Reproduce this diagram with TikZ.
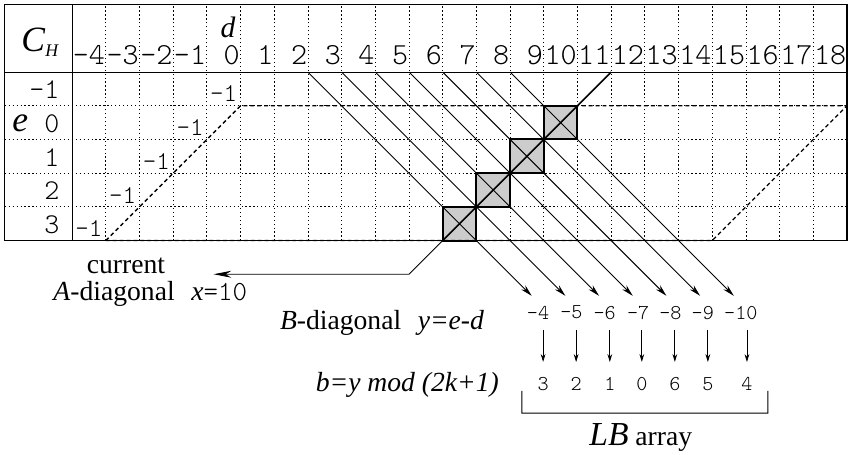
\documentclass[tikz,border=0pt]{standalone}
\usepackage{fontspec}
\setmainfont{Liberation Serif}
\setmonofont{Latin Modern Mono Light}
\usetikzlibrary{arrows.meta}
\newcommand{\hnum}{\fontsize{15.5}{15.5}\selectfont\ttfamily}
\newcommand{\rnum}{\fontsize{14.5}{14.5}\selectfont\ttfamily}
\newcommand{\cnum}{\fontsize{13}{13}\selectfont\ttfamily}
\newcommand{\snum}{\fontsize{10.7}{10.7}\selectfont\ttfamily}
\newcommand{\lab}{\fontsize{14}{14}\selectfont}
\newcommand{\blankdig}{\hphantom{0}}

\begin{document}
\begin{tikzpicture}[xscale=0.6,yscale=0.6,
  gridline/.style={line width=0.4pt,dash pattern=on 0.6pt off 1.4pt},
  frame/.style={line width=0.6pt},
  band/.style={line width=0.7pt,dash pattern=on 2pt off 1.5pt},
  hit/.style={line width=1pt},
  head/.style={inner sep=1pt},
  diag/.style={line width=0.45pt,-{Stealth[length=6pt,width=3pt]}},
  down/.style={line width=0.4pt,-{Stealth[length=4pt,width=2.4pt]},shorten <=1.7pt,shorten >=4.3pt}]
\useasboundingbox (-2.14,-6.34) rectangle (23.12,7.14);

\fill[black!20] (11,0) rectangle (12,1);
\fill[black!20] (12,1) rectangle (13,2);
\fill[black!20] (13,2) rectangle (14,3);
\fill[black!20] (14,3) rectangle (15,4);

\draw[gridline,xstep=1,ystep=7] (0,0) grid (23,7);
\draw[gridline,xstep=25,ystep=1] (-2,0) grid (23,5);

\draw[band] (1,0) -- (5,4) -- (23,4);
\draw[band] (1,0) -- (19,0) -- (23,4);

\draw (0.5,5.5) node[head](dm4) {\hnum -4};
\draw (1.5,5.5) node[head](dm3) {\hnum -3};
\draw (2.5,5.5) node[head](dm2) {\hnum -2};
\draw (3.5,5.5) node[head](dm1) {\hnum -1};
\draw (4.5,5.5) node[head](d0) {\hnum \blankdig0};
\draw (5.5,5.5) node[head](d1) {\hnum \blankdig1};
\draw (6.5,5.5) node[head](d2) {\hnum \blankdig2};
\draw (7.5,5.5) node[head](d3) {\hnum \blankdig3};
\draw (8.5,5.5) node[head](d4) {\hnum \blankdig4};
\draw (9.5,5.5) node[head](d5) {\hnum \blankdig5};
\draw (10.5,5.5) node[head](d6) {\hnum \blankdig6};
\draw (11.5,5.5) node[head](d7) {\hnum \blankdig7};
\draw (12.5,5.5) node[head](d8) {\hnum \blankdig8};
\draw (13.5,5.5) node[head](d9) {\hnum \blankdig9};
\draw (14.5,5.5) node[head](d10) {\hnum 10};
\draw (15.5,5.5) node[head](d11) {\hnum 11};
\draw (16.5,5.5) node[head](d12) {\hnum 12};
\draw (17.5,5.5) node[head](d13) {\hnum 13};
\draw (18.5,5.5) node[head](d14) {\hnum 14};
\draw (19.5,5.5) node[head](d15) {\hnum 15};
\draw (20.5,5.5) node[head](d16) {\hnum 16};
\draw (21.5,5.5) node[head](d17) {\hnum 17};
\draw (22.5,5.5) node[head](d18) {\hnum 18};

\draw (4.63,6.34) node[inner sep=0.5pt](dname) {\fontsize{15}{15}\selectfont\textit{d}};
\draw (-0.95,5.89) node(cname) {\fontsize{18}{18}\selectfont\textit{C}\raisebox{-2.5pt}{\fontsize{9}{9}\selectfont\textit{H}}};
\draw (-1.54,3.47) node(ename) {\fontsize{18}{18}\selectfont\textit{e}};

\draw (-0.17,4.47) node[anchor=east](em1) {\rnum -1};
\draw (-0.17,3.47) node[anchor=east](e0) {\rnum 0};
\draw (-0.17,2.47) node[anchor=east](e1) {\rnum 1};
\draw (-0.17,1.47) node[anchor=east](e2) {\rnum 2};
\draw (-0.17,0.47) node[anchor=east](e3) {\rnum 3};

\draw (4.5,4.35) node(c0) {\cnum -1};
\draw (3.5,3.35) node(c1) {\cnum -1};
\draw (2.5,2.35) node(c2) {\cnum -1};
\draw (1.5,1.35) node(c3) {\cnum -1};
\draw (0.5,0.35) node(c4) {\cnum -1};

\coordinate (s1) at (7,5);
\coordinate (s2) at (8,5);
\coordinate (s3) at (9,5);
\coordinate (s4) at (10,5);
\coordinate (s5) at (11,5);
\coordinate (s6) at (12,5);
\coordinate (s7) at (13,5);
\coordinate (t1) at (13.64,-1.64);
\coordinate (t2) at (14.64,-1.64);
\coordinate (t3) at (15.64,-1.64);
\coordinate (t4) at (16.64,-1.64);
\coordinate (t5) at (17.64,-1.64);
\coordinate (t6) at (18.64,-1.64);
\coordinate (t7) at (19.64,-1.64);

\draw[diag] (s1) -- (t1);
\draw[diag] (s2) -- (t2);
\draw[diag] (s3) -- (t3);
\draw[diag] (s4) -- (t4);
\draw[diag] (s5) -- (t5);
\draw[diag] (s6) -- (t6);
\draw[diag] (s7) -- (t7);

\coordinate (xtop) at (16,5);
\coordinate (xlow) at (11,0);
\coordinate (xbend) at (10,-1);
\coordinate (xend) at (4.2,-1);
\draw[line width=0.8pt] (xtop) -- (xlow);
\draw[line width=0.45pt,-{Stealth[length=9pt,width=3.5pt]}] (xlow) -- (xbend) -- (xend);

\draw[hit] (11,0) rectangle (12,1);
\draw[hit] (12,1) rectangle (13,2);
\draw[hit] (13,2) rectangle (14,3);
\draw[hit] (14,3) rectangle (15,4);

\draw[frame] (-2,0) rectangle (23,7);
\draw[frame] (0,0) -- (0,7);
\draw[frame] (-2,5) -- (23,5);

\draw (1.6,-0.74) node(cur) {\lab current};
\draw (2.32,-1.58) node(adiag) {\lab \textit{A}-diagonal\hspace{0.6em}\textit{x}{\ttfamily =10}};
\draw (9.2,-2.44) node(bdiag) {\lab \textit{B}-diagonal\hspace{0.6em}\textit{y=e-d}};
\draw (9.95,-4.29) node(bmod) {\lab \textit{b=y mod (2k+1)}};

\draw (13.83,-2.14) node(ym4) {\snum -4};
\draw (14.82,-2.14) node(ym5) {\snum -5};
\draw (15.81,-2.14) node(ym6) {\snum -6};
\draw (16.8,-2.14) node(ym7) {\snum -7};
\draw (17.76,-2.14) node(ym8) {\snum -8};
\draw (18.72,-2.14) node(ym9) {\snum -9};
\draw (19.85,-2.14) node(ym10) {\snum -10};

\draw (13.98,-4.26) node(lb3) {\snum 3};
\draw (14.96,-4.26) node(lb2) {\snum 2};
\draw (15.96,-4.26) node(lb1) {\snum 1};
\draw (16.91,-4.26) node(lb0) {\snum 0};
\draw (17.89,-4.26) node(lb6) {\snum 6};
\draw (18.87,-4.26) node(lb5) {\snum 5};
\draw (20.03,-4.26) node(lb4) {\snum 4};

\draw[down] (lb3 |- ym4.south) -- (lb3.north);
\draw[down] (lb2 |- ym5.south) -- (lb2.north);
\draw[down] (lb1 |- ym6.south) -- (lb1.north);
\draw[down] (lb0 |- ym7.south) -- (lb0.north);
\draw[down] (lb6 |- ym8.south) -- (lb6.north);
\draw[down] (lb5 |- ym9.south) -- (lb5.north);
\draw[down] (lb4 |- ym10.south) -- (lb4.north);

\coordinate (brl) at (13.35,-4.46);
\coordinate (brr) at (20.65,-4.46);
\draw[line width=0.5pt] (brl) -- ++(0,-0.66) -- ++(7.3,0) -- (brr);

\draw (16.88,-5.86) node(lbname) {\lab {\fontsize{17}{17}\selectfont\textit{LB}} array};
\end{tikzpicture}
\end{document}
